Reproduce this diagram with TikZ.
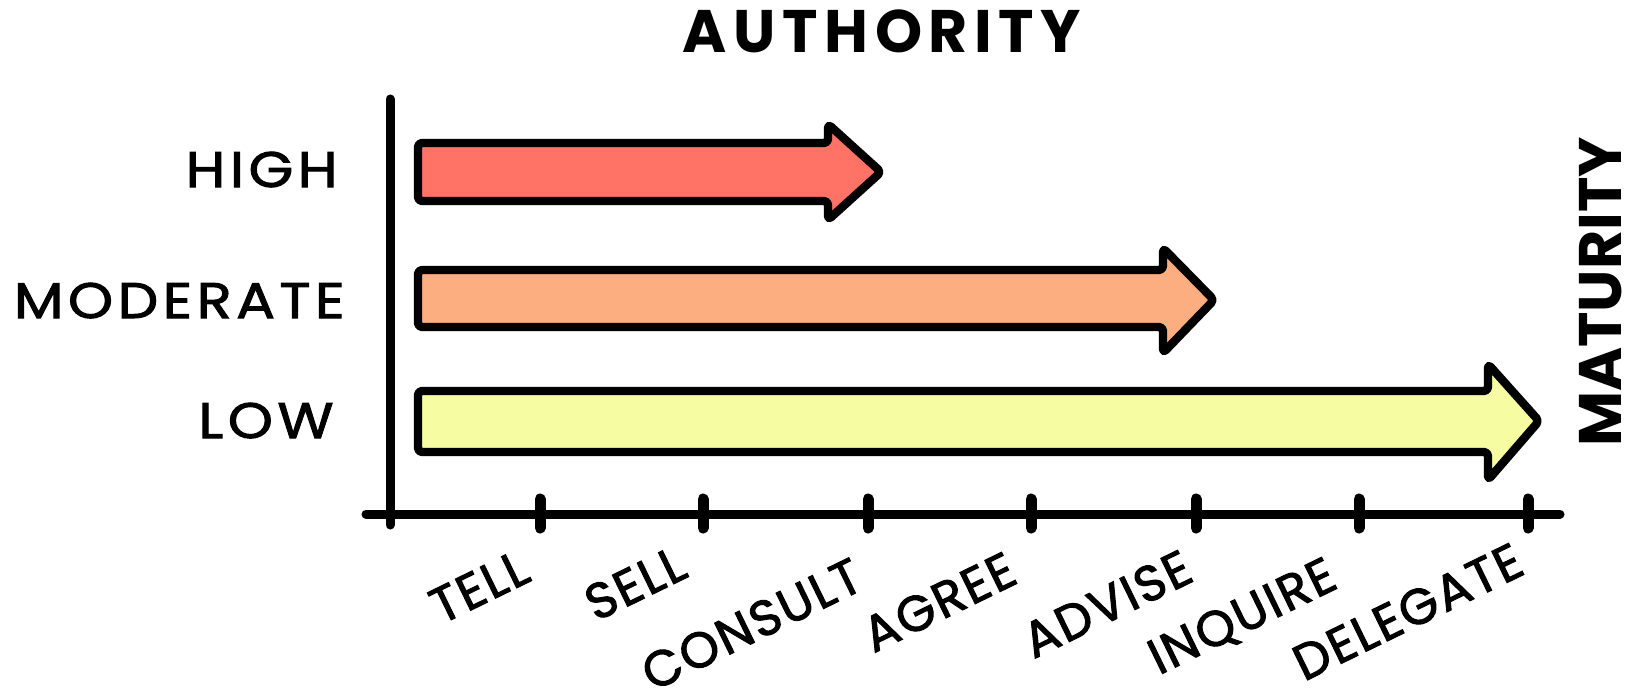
\documentclass[tikz,border=0pt]{standalone}
\usepackage{fontspec}
\setmainfont{Poppins}
\newfontfamily\lblfont{Poppins}[LetterSpace=4.0,FakeBold=2]
\newfontfamily\lvlfont{Poppins}[LetterSpace=9.0,FakeStretch=1.15,FakeBold=2]
\newfontfamily\ttlfont{Poppins}[LetterSpace=11.0]
\usepackage{xcolor}
\definecolor{highred}{RGB}{255,115,102}
\definecolor{modorange}{RGB}{253,174,128}
\definecolor{lowyellow}{RGB}{245,252,162}

\begin{document}
\begin{tikzpicture}[x=0.5pt,y=-0.5pt,
	fatarrow/.style={draw=black,line width=4.2pt,line join=round,rounded corners=2pt},
	axisline/.style={line width=4.5pt,line cap=round},
	tickmark/.style={line width=5.5pt,line cap=round},
	level/.style={font=\lvlfont\fontsize{25}{25}\selectfont,anchor=base east,inner sep=0pt},
	mode/.style={font=\lblfont\fontsize{25}{25}\selectfont,anchor=base east,inner sep=0pt,rotate=26},
	title/.style={font=\bfseries\fontsize{30}{30}\selectfont,inner sep=0pt}]
	\useasboundingbox (0,0) rectangle (1638,690);
	% axes
	\coordinate (top) at (390,99);
	\coordinate (bottom) at (390,525);
	\coordinate (left) at (366,514);
	\coordinate (right) at (1560,514);
	\draw[axisline] (top) -- (bottom);
	\draw[axisline] (left) -- (right);
	% ticks
	\foreach \x in {540,703,868,1031,1196,1359,1528}
		\draw[tickmark] (\x,499) -- (\x,528);
	% arrows
	\draw[fatarrow,fill=highred] (418,143) -- (828,143) -- (828,124) -- (881,172) -- (828,220) -- (828,201) -- (418,201) -- cycle;
	\draw[fatarrow,fill=modorange] (418,270) -- (1163,270) -- (1163,248) -- (1214,300) -- (1163,353) -- (1163,327) -- (418,327) -- cycle;
	\draw[fatarrow,fill=lowyellow] (418,391) -- (1488,391) -- (1488,364) -- (1539,421) -- (1488,480) -- (1488,452) -- (418,452) -- cycle;
	% titles
	\node[title,font=\ttlfont\bfseries\fontsize{30}{30}\selectfont] (authority) at (882,31) {AUTHORITY};
	\node[title,rotate=90] (maturity) at (1601,292) {MATURITY};
	% levels
	\node[level] (high) at (338,187) {HIGH};
	\node[level] (moderate) at (345,318) {MODERATE};
	\node[level] (low) at (334,438) {LOW};
	% modes
	\node[mode] (tell) at (533,580) {TELL};
	\node[mode] (sell) at (690,576) {SELL};
	\node[mode] (consult) at (866,588) {CONSULT};
	\node[mode] (agree) at (1020,582) {AGREE};
	\node[mode] (advise) at (1196,580) {ADVISE};
	\node[mode] (inquire) at (1340,587) {INQUIRE};
	\node[mode] (delegate) at (1527,573) {DELEGATE};
\end{tikzpicture}
\end{document}
